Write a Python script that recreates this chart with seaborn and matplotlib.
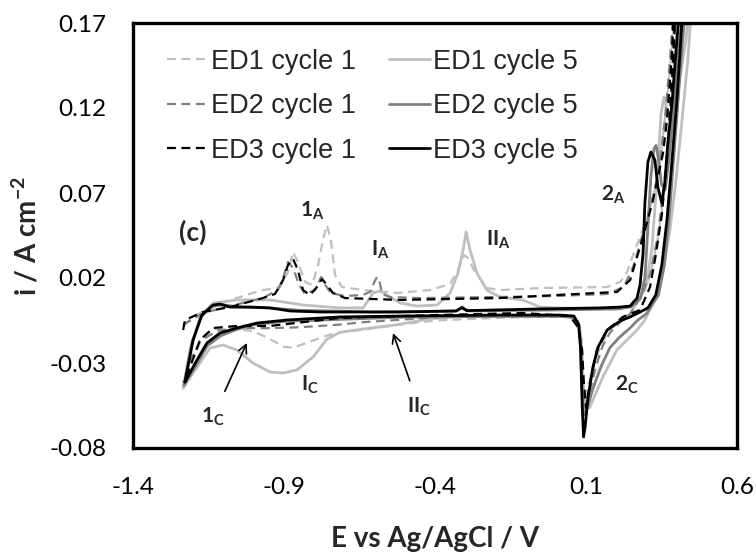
import matplotlib
matplotlib.use("Agg")
import matplotlib.pyplot as plt
import numpy as np
import pandas as pd
import seaborn as sns
from matplotlib.lines import Line2D

sns.set_theme(style="white")
plt.rcParams["font.family"] = ["Lato", "DejaVu Sans"]
plt.rcParams["axes.unicode_minus"] = False

# ---------------- data (E / V vs Ag/AgCl, i / A cm^-2) ----------------
# ED1 cycle 1
ed1_c1_E = [-1.234, -1.178, -1.079, -0.979, -0.913, -0.887, -0.870, -0.854, -0.830, -0.807,
            -0.787, -0.771, -0.758, -0.745, -0.731, -0.708, -0.638, -0.526, -0.417, -0.350,
            -0.324, -0.304, -0.291, -0.271, -0.228, -0.185, -0.052, 0.170, 0.213, 0.236,
            0.256, 0.279, 0.306, 0.328, 0.345, 0.361, 0.378, 0.398,
            0.405, 0.392, 0.375, 0.355, 0.335, 0.310, 0.280, 0.250, 0.215, 0.180,
            0.150, 0.127, 0.110, 0.098, 0.092, 0.088, 0.083, 0.076, 0.060, 0.000,
            -0.200, -0.400, -0.520, -0.640, -0.720, -0.770, -0.830, -0.870, -0.900, -0.945,
            -1.000, -1.070, -1.130, -1.170, -1.200, -1.234]
ed1_c1_i = [-0.0076, -0.0006, 0.0070, 0.0125, 0.0147, 0.0235, 0.0353, 0.0294, 0.0176, 0.0159,
            0.0276, 0.0424, 0.0512, 0.0424, 0.0218, 0.0147, 0.0129, 0.0112, 0.0129, 0.0165,
            0.0247, 0.0335, 0.0318, 0.0247, 0.0141, 0.0129, 0.0141, 0.0147, 0.0176, 0.0235,
            0.0335, 0.0441, 0.0571, 0.0718, 0.0894, 0.1129, 0.1424, 0.1835,
            0.1835, 0.1400, 0.1000, 0.0650, 0.0400, 0.0200, 0.0080, 0.0000, -0.0050, -0.0100,
            -0.0190, -0.0300, -0.0420, -0.0500, -0.0460, -0.0300, -0.0150, -0.0060, -0.0030, -0.0025,
            -0.0035, -0.0050, -0.0075, -0.0105, -0.0120, -0.0145, -0.0185, -0.0210, -0.0205, -0.0160,
            -0.0115, -0.0095, -0.0100, -0.0150, -0.0260, -0.0412]

# ED1 cycle 5
ed1_c5_E = [-1.234, -1.211, -1.178, -1.135, -1.056, -0.946, -0.837, -0.715, -0.638, -0.605,
            -0.582, -0.549, -0.516, -0.460, -0.393, -0.350, -0.324, -0.307, -0.297, -0.284,
            -0.261, -0.228, -0.185, -0.109, -0.052, 0.004, 0.213, 0.262, 0.295, 0.318,
            0.335, 0.348, 0.358, 0.371, 0.385, 0.405, 0.431, 0.444,
            0.451, 0.437, 0.418, 0.398, 0.378, 0.355, 0.328, 0.295, 0.269, 0.202,
            0.156, 0.130, 0.113, 0.097, 0.090, 0.085, 0.075, 0.045, -0.052, -0.185,
            -0.307, -0.417, -0.526, -0.638, -0.715, -0.758, -0.804, -0.857, -0.903, -0.946,
            -1.003, -1.056, -1.102, -1.145, -1.188, -1.234]
ed1_c5_i = [-0.0447, -0.0224, -0.0029, 0.0053, 0.0071, 0.0071, 0.0041, 0.0024, 0.0024, 0.0112,
            0.0124, 0.0088, 0.0053, 0.0035, 0.0041, 0.0112, 0.0229, 0.0365, 0.0471, 0.0365,
            0.0229, 0.0129, 0.0088, 0.0071, 0.0029, 0.0024, 0.0018, 0.0041, 0.0129, 0.0365,
            0.0776, 0.1159, 0.1265, 0.1159, 0.1100, 0.1306, 0.1600, 0.1835,
            0.1835, 0.1480, 0.1130, 0.0776, 0.0482, 0.0247, 0.0071, -0.0047, -0.0106, -0.0224,
            -0.0382, -0.0488, -0.0560, -0.0576, -0.0400, -0.0165, -0.0060, -0.0029, -0.0024, -0.0020,
            -0.0025, -0.0040, -0.0075, -0.0100, -0.0120, -0.0160, -0.0265, -0.0341, -0.0359, -0.0353,
            -0.0300, -0.0224, -0.0194, -0.0212, -0.0324, -0.0447]

# ED2 cycle 1
ed2_c1_E = [-1.234, -1.168, -1.079, -0.970, -0.920, -0.903, -0.887, -0.870, -0.850, -0.830,
            -0.797, -0.777, -0.764, -0.745, -0.700, -0.640, -0.615, -0.600, -0.592, -0.585,
            -0.575, -0.549, -0.450, -0.200, 0.000, 0.170, 0.225, 0.256, 0.279, 0.306,
            0.328, 0.345, 0.361, 0.378, 0.392,
            0.400, 0.388, 0.372, 0.355, 0.338, 0.312, 0.279, 0.246, 0.213, 0.180,
            0.155, 0.133, 0.115, 0.102, 0.094, 0.089, 0.085, 0.080, 0.072, 0.050,
            -0.100, -0.350, -0.550, -0.640, -0.720, -0.850, -0.950, -1.050, -1.120, -1.178,
            -1.211, -1.234]
ed2_c1_i = [-0.0076, -0.0006, 0.0035, 0.0082, 0.0129, 0.0200, 0.0294, 0.0260, 0.0160, 0.0106,
            0.0129, 0.0206, 0.0160, 0.0112, 0.0094, 0.0100, 0.0118, 0.0180, 0.0206, 0.0190,
            0.0106, 0.0088, 0.0082, 0.0088, 0.0094, 0.0106, 0.0147, 0.0265, 0.0400, 0.0580,
            0.0720, 0.0894, 0.1129, 0.1480, 0.1835,
            0.1835, 0.1400, 0.1000, 0.0700, 0.0450, 0.0220, 0.0080, -0.0010, -0.0060, -0.0120,
            -0.0200, -0.0320, -0.0450, -0.0530, -0.0550, -0.0450, -0.0280, -0.0120, -0.0050, -0.0030,
            -0.0025, -0.0025, -0.0050, -0.0060, -0.0075, -0.0090, -0.0095, -0.0095, -0.0110, -0.0170,
            -0.0290, -0.0412]

# ED2 cycle 5
ed2_c5_E = [-1.231, -1.205, -1.175, -1.140, -1.100, -1.050, -0.950, -0.850, -0.600, -0.330,
            -0.310, -0.290, 0.000, 0.200, 0.250, 0.280, 0.295, 0.305, 0.315, 0.325,
            0.332, 0.340, 0.350, 0.362, 0.375, 0.390, 0.410, 0.425,
            0.432, 0.420, 0.405, 0.390, 0.375, 0.360, 0.340, 0.300, 0.270, 0.246,
            0.210, 0.179, 0.150, 0.123, 0.105, 0.095, 0.090, 0.086, 0.082, 0.076,
            0.062, 0.000, -0.500, -0.900, -1.000, -1.060, -1.110, -1.155, -1.190, -1.231]
ed2_c5_i = [-0.0430, -0.0180, -0.0030, 0.0035, 0.0041, 0.0030, 0.0024, 0.0010, 0.0000, 0.0006,
            0.0030, 0.0006, 0.0012, 0.0018, 0.0030, 0.0080, 0.0200, 0.0500, 0.0800, 0.0960,
            0.0980, 0.0900, 0.0750, 0.0720, 0.0900, 0.1200, 0.1600, 0.1835,
            0.1835, 0.1600, 0.1250, 0.0900, 0.0550, 0.0280, 0.0100, -0.0010, -0.0050, -0.0094,
            -0.0150, -0.0210, -0.0320, -0.0450, -0.0560, -0.0605, -0.0580, -0.0420, -0.0220, -0.0080,
            -0.0030, -0.0024, -0.0030, -0.0055, -0.0075, -0.0105, -0.0140, -0.0200, -0.0310, -0.0430]

# ED3 cycle 1
ed3_c1_E = [-1.234, -1.228, -1.168, -1.079, -0.970, -0.930, -0.903, -0.887, -0.870, -0.854,
            -0.837, -0.814, -0.791, -0.774, -0.758, -0.738, -0.698, -0.516, -0.185, 0.004,
            0.203, 0.246, 0.289, 0.322, 0.355, 0.368, 0.385, 0.391,
            0.398, 0.385, 0.368, 0.351, 0.331, 0.312, 0.279, 0.222, 0.170, 0.136,
            0.113, 0.100, 0.093, 0.087, 0.073, 0.047, -0.109, -0.400, -0.715, -0.946,
            -1.056, -1.135, -1.178, -1.211, -1.228]
ed3_c1_i = [-0.0106, -0.0047, 0.0000, 0.0029, 0.0082, 0.0106, 0.0188, 0.0276, 0.0312, 0.0247,
            0.0129, 0.0100, 0.0147, 0.0194, 0.0159, 0.0112, 0.0082, 0.0071, 0.0082, 0.0100,
            0.0118, 0.0188, 0.0441, 0.0659, 0.0935, 0.1129, 0.1524, 0.1835,
            0.1835, 0.1365, 0.0894, 0.0571, 0.0335, 0.0147, 0.0012, -0.0029, -0.0106, -0.0224,
            -0.0418, -0.0565, -0.0418, -0.0224, -0.0088, -0.0024, -0.0006, -0.0018, -0.0035, -0.0082,
            -0.0082, -0.0094, -0.0165, -0.0324, -0.0412]

# ED3 cycle 5
ed3_c5_E = [-1.228, -1.201, -1.172, -1.135, -1.112, -1.079, -1.013, -0.946, -0.880, -0.781,
            -0.516, -0.330, -0.311, -0.295, -0.052, 0.146, 0.213, 0.246, 0.269, 0.279,
            0.289, 0.295, 0.305, 0.315, 0.328, 0.338, 0.351, 0.361, 0.371, 0.385,
            0.395, 0.408, 0.414,
            0.421, 0.414, 0.401, 0.385, 0.368, 0.351, 0.331, 0.305, 0.279, 0.246,
            0.213, 0.170, 0.140, 0.123, 0.107, 0.097, 0.092, 0.088, 0.085, 0.082,
            0.076, 0.060, 0.014, -0.185, -0.516, -0.715, -0.890, -0.989, -1.056, -1.112,
            -1.155, -1.188, -1.228]
ed3_c5_i = [-0.0412, -0.0165, -0.0018, 0.0041, 0.0047, 0.0029, 0.0029, 0.0024, 0.0006, 0.0000,
            0.0000, 0.0006, 0.0025, 0.0008, 0.0018, 0.0024, 0.0029, 0.0035, 0.0082, 0.0159,
            0.0347, 0.0641, 0.0882, 0.0941, 0.0894, 0.0735, 0.0641, 0.0759, 0.0994, 0.1230,
            0.1465, 0.1747, 0.1835,
            0.1835, 0.1600, 0.1247, 0.0894, 0.0541, 0.0276, 0.0100, 0.0024, 0.0000, -0.0029,
            -0.0053, -0.0106, -0.0206, -0.0324, -0.0500, -0.0676, -0.0735, -0.0576, -0.0400, -0.0206,
            -0.0076, -0.0024, -0.0018, -0.0018, -0.0024, -0.0029, -0.0047, -0.0065, -0.0094, -0.0124,
            -0.0182, -0.0282, -0.0412]

labels = ["ED1 cycle 1", "ED2 cycle 1", "ED3 cycle 1", "ED1 cycle 5", "ED2 cycle 5", "ED3 cycle 5"]
x_ticks = [-1.4, -0.9, -0.4, 0.1, 0.6]
x_tick_labels = ["-1.4", "-0.9", "-0.4", "0.1", "0.6"]
y_ticks = [-0.08, -0.03, 0.02, 0.07, 0.12, 0.17]
y_tick_labels = ["-0.08", "-0.03", "0.02", "0.07", "0.12", "0.17"]

data = {
    "ED1 cycle 1": (ed1_c1_E, ed1_c1_i),
    "ED1 cycle 5": (ed1_c5_E, ed1_c5_i),
    "ED2 cycle 1": (ed2_c1_E, ed2_c1_i),
    "ED2 cycle 5": (ed2_c5_E, ed2_c5_i),
    "ED3 cycle 1": (ed3_c1_E, ed3_c1_i),
    "ED3 cycle 5": (ed3_c5_E, ed3_c5_i),
}
frames = []
for name, (E, I) in data.items():
    frames.append(pd.DataFrame({"E": E, "i": I, "series": name, "n": np.arange(len(E))}))
df = pd.concat(frames, ignore_index=True)

colors = {"ED1": "#bfbfbf", "ED2": "#808080", "ED3": "#000000"}
dash = (0, (4, 2.5))

def style_of(name):
    c = colors[name[:3]]
    if name.endswith("1"):
        return dict(color=c, linewidth=1.6, linestyle=dash)
    return dict(color=c, linewidth=2.0, linestyle="-")

fig = plt.figure(figsize=(7.56, 5.57), dpi=100)
ax = fig.add_axes([133 / 756, 1 - 448 / 557, 604 / 756, 425 / 557])

for name in data:
    sub = df[df["series"] == name]
    sns.lineplot(data=sub, x="E", y="i", sort=False, estimator=None, ax=ax,
                 legend=False, **style_of(name))

ax.set_xlim(-1.4, 0.6)
ax.set_ylim(-0.08, 0.17)
ax.set_xticks(x_ticks)
ax.set_xticklabels(x_tick_labels)
ax.set_yticks(y_ticks)
ax.set_yticklabels(y_tick_labels)
ax.tick_params(axis="both", direction="out", length=8, width=1, color="#888888",
               labelsize=17.5, labelcolor="black")
ax.tick_params(axis="x", pad=13)
ax.tick_params(axis="y", pad=11)
for s in ax.spines.values():
    s.set_linewidth(2.4)
    s.set_color("black")

ax.set_xlabel("E vs Ag/AgCl / V", fontsize=20, fontweight="bold")
ax.set_ylabel("i / A cm$\\mathregular{^{-2}}$", fontsize=20, fontweight="bold")
ax.xaxis.set_label_coords(0.5, -0.214)
ax.xaxis.label.set_va("center")
ax.yaxis.set_label_coords(-0.176, 0.5)
ax.yaxis.label.set_va("center")

handles = [Line2D([0], [0], **style_of(n)) for n in labels]
leg = ax.legend(handles, labels, loc="upper left", bbox_to_anchor=(0.056, 0.939),
                ncol=2, frameon=False, handlelength=1.52,
                handletextpad=0.11, columnspacing=1.22, labelspacing=0.68,
                borderpad=0, borderaxespad=0, prop={"family": "Liberation Sans", "size": 19.5})

tkw = dict(fontweight="bold", ha="center", va="center", fontsize=15)
ax.text(-1.201, 0.0471, "(c)", fontweight="bold", ha="center", va="center", fontsize=19)
ax.text(-0.807, 0.0594, "1$\\mathregular{_A}$", **tkw)
ax.text(-0.582, 0.0365, "I$\\mathregular{_A}$", **tkw)
ax.text(-0.191, 0.0424, "II$\\mathregular{_A}$", **tkw)
ax.text(0.189, 0.0688, "2$\\mathregular{_A}$", **tkw)
ax.text(0.236, -0.043, "2$\\mathregular{_C}$", **tkw)
ax.text(-0.814, -0.043, "I$\\mathregular{_C}$", **tkw)
ax.annotate("1$\\mathregular{_C}$", xy=(-1.023, -0.0182), xytext=(-1.135, -0.0618),
            arrowprops=dict(arrowstyle="->", color="black", lw=1.2, shrinkA=9, shrinkB=0),
            **tkw)
ax.annotate("II$\\mathregular{_C}$", xy=(-0.539, -0.0124), xytext=(-0.453, -0.0559),
            arrowprops=dict(arrowstyle="->", color="black", lw=1.2, shrinkA=9, shrinkB=0),
            **tkw)

fig.savefig("out.png", dpi=100)
